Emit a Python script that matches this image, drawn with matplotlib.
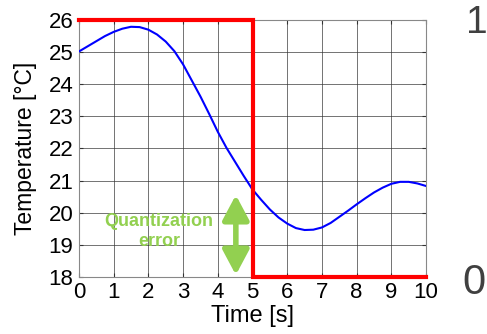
import numpy as np
import matplotlib
matplotlib.use("Agg")
import matplotlib.pyplot as plt

plt.rcParams['font.family'] = ['Liberation Sans', 'DejaVu Sans']

# ---- data ----
time_s = [0.0, 0.25, 0.5, 0.75, 1.0, 1.25, 1.5, 1.75, 2.0, 2.25, 2.5,
          2.75, 3.0, 3.25, 3.5, 3.75, 4.0, 4.25, 4.5, 4.75, 5.0,
          5.25, 5.5, 5.75, 6.0, 6.25, 6.5, 6.75, 7.0, 7.25, 7.5,
          7.75, 8.0, 8.25, 8.5, 8.75, 9.0, 9.25, 9.5, 9.75, 10.0]
temp_c = [25.02, 25.18, 25.34, 25.50, 25.63, 25.73, 25.79, 25.78, 25.70, 25.55, 25.33,
          25.03, 24.62, 24.12, 23.62, 23.08, 22.52, 22.02, 21.58, 21.14, 20.72,
          20.40, 20.10, 19.85, 19.66, 19.52, 19.46, 19.47, 19.54, 19.68, 19.87,
          20.06, 20.26, 20.45, 20.63, 20.78, 20.90, 20.96, 20.96, 20.91, 20.83]

quant_t = [0, 5, 5, 10]
quant_y = [26, 26, 18, 18]

xticks = list(range(0, 11))
yticks = list(range(18, 27))

fig = plt.figure(figsize=(4.87, 3.34), dpi=100)
ax = fig.add_axes([0.162, 0.171, 0.713, 0.769])

ax.plot(time_s, temp_c, color="#0000ff", lw=1.5, zorder=3)
ax.plot(quant_t, quant_y, color="#ff0000", lw=3, zorder=4, clip_on=False,
        solid_joinstyle="miter")

ax.set_xlim(0, 10)
ax.set_ylim(18, 26)
ax.set_xticks(xticks)
ax.set_yticks(yticks)
ax.grid(True, color="#333333", lw=0.6, alpha=0.8)
ax.tick_params(direction="in", length=3, labelsize=16, pad=4,
               top=True, right=True, color="#333333")
for s in ax.spines.values():
    s.set_color("#888888")
    s.set_linewidth(0.8)

ax.set_xlabel("Time [s]", fontsize=17, labelpad=1)
ax.set_ylabel("Temperature [°C]", fontsize=16.5, labelpad=8)

# quantization error arrow
green = "#92d050"
ax.annotate("", xy=(4.52, 18.06), xytext=(4.52, 20.55),
            arrowprops=dict(arrowstyle="<|-|>,head_length=1.5,head_width=0.8",
                            color=green, lw=4, shrinkA=0, shrinkB=0), zorder=5)
ax.text(2.3, 19.42, "Quantization\nerror", color=green, fontsize=13,
        fontweight="bold", ha="center", va="center", linespacing=1.25)

fig.text(477 / 487, 1 - 23 / 334, "1", fontsize=28, color="#404040",
         ha="center", va="center")
fig.text(474 / 487, 1 - 283 / 334, "0", fontsize=30, color="#404040",
         ha="center", va="center")

fig.savefig("out.png", dpi=100)
